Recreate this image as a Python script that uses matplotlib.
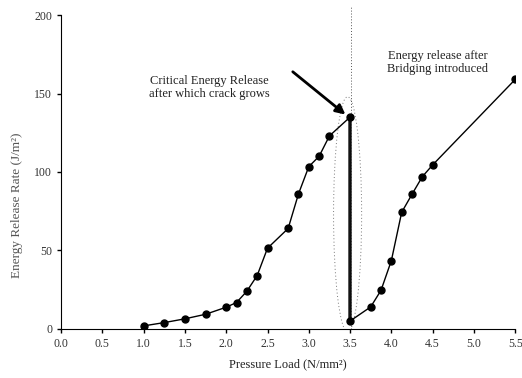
import matplotlib.pyplot as plt
from matplotlib.patches import Ellipse

plt.rcParams['font.family'] = ['Liberation Serif', 'DejaVu Serif']

# Curva antes do bridging (termina no ponto critico) e depois
x_antes = [1.0, 1.25, 1.5, 1.75, 2.0, 2.125, 2.25, 2.375, 2.5, 2.75, 2.875,
           3.0, 3.125, 3.25, 3.5]
y_antes = [1.9, 4, 6.4, 9.3, 13.8, 16.8, 24, 34, 51.4, 64, 86, 103.4, 110,
           123, 135]
x_depois = [3.5, 3.75, 3.875, 4.0, 4.125, 4.25, 4.375, 4.5, 5.5]
y_depois = [5, 14, 24.6, 43.5, 74.3, 85.8, 97, 104.5, 159]

x_ticks = [0.0, 0.5, 1.0, 1.5, 2.0, 2.5, 3.0, 3.5, 4.0, 4.5, 5.0, 5.5]
y_ticks = [0, 50, 100, 150, 200]

fig = plt.figure(figsize=(5.22, 3.78), dpi=100)
ax = fig.add_axes([0.117, 0.130, 0.870, 0.830])

ax.plot(x_antes + x_depois, y_antes + y_depois, color='black', lw=1.0,
        marker='o', ms=5, zorder=3)
# queda brusca no ponto critico
ax.plot([x_antes[-1], x_depois[0]], [y_antes[-1], y_depois[0]],
        color='#333333', lw=2.6, zorder=2)

# linha pontilhada vertical e elipse
ax.plot([3.51, 3.51], [0, 206], color='#555555', lw=0.7, ls=(0, (1, 2)),
        clip_on=False, zorder=1)
ax.add_patch(Ellipse((3.47, 73), 0.34, 150, fill=False, ec='#777777',
                     lw=0.7, ls=(0, (1, 2.5))))

ax.annotate('', xy=(3.47, 135.5), xytext=(2.78, 165),
            arrowprops=dict(arrowstyle='-|>', color='black', lw=2.0,
                            mutation_scale=14))
ax.text(1.80, 154, 'Critical Energy Release\nafter which crack grows',
        ha='center', va='center', fontsize=9, linespacing=1.1,
        color='#222222')
ax.text(4.56, 170, 'Energy release after\nBridging introduced',
        ha='center', va='center', fontsize=9, linespacing=1.1,
        color='#222222')

ax.set_xlim(0, 5.5)
ax.set_ylim(0, 200)
ax.set_xticks(x_ticks)
ax.set_xticklabels(['%.1f' % v for v in x_ticks])
ax.set_yticks(y_ticks)
ax.tick_params(labelsize=8.5, length=3, width=1, color='black',
               labelcolor='#333333')
ax.spines['top'].set_visible(False)
ax.spines['right'].set_visible(False)
ax.set_xlabel('Pressure Load (N/mm²)', fontsize=9, labelpad=6,
              color='#222222')
ax.set_ylabel('Energy Release Rate (J/m²)', fontsize=9.5,
              color='#555555')
ax.yaxis.set_label_coords(-0.083, 0.395)

fig.savefig('out.png', dpi=100)
